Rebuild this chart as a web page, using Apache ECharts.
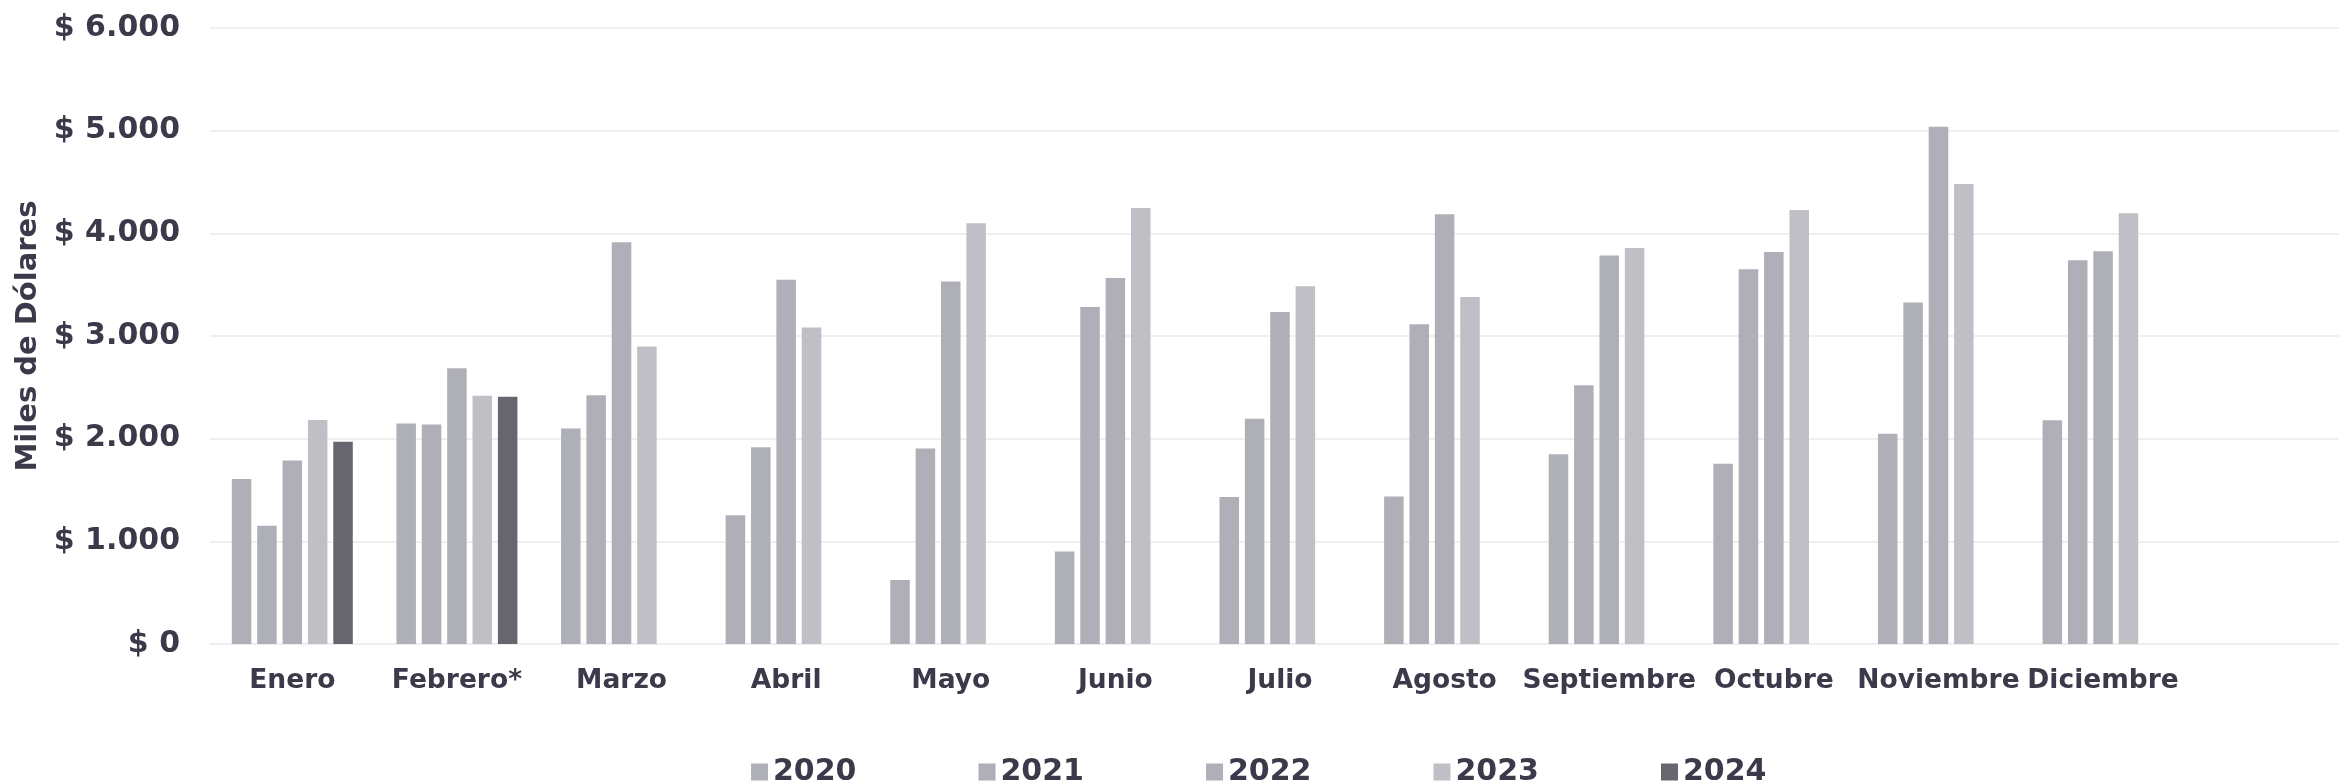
<!DOCTYPE html>
<html>
<head>
<meta charset="utf-8">
<title>Miles de Dólares por mes</title>
<script src="https://cdn.jsdelivr.net/npm/echarts@6/dist/echarts.min.js"></script>
<style>
  html, body { margin: 0; padding: 0; background: #fff; }
  #chart { width: 2339px; height: 782px; }
</style>
</head>
<body>
<div id="chart"></div>
<script>
// meses (la última categoría queda vacía, como en el original)
const meses = ['Enero', 'Febrero*', 'Marzo', 'Abril', 'Mayo', 'Junio', 'Julio',
  'Agosto', 'Septiembre', 'Octubre', 'Noviembre', 'Diciembre', '']
const anios = ['2020', '2021', '2022', '2023', '2024']

// valores en miles de dólares
const v2020 = [1607, 2148, 2099, 1255, 623, 902, 1431, 1437, 1849, 1755, 2048, 2179, null]
const v2021 = [1153, 2137, 2424, 1917, 1904, 3283, 2193, 3114, 2521, 3650, 3326, 3737, null]
const v2022 = [1787, 2685, 3914, 3549, 3530, 3565, 3234, 4185, 3783, 3818, 5038, 3826, null]
const v2023 = [2182, 2417, 2897, 3082, 4097, 4247, 3484, 3380, 3857, 4227, 4480, 4196, null]
const v2024 = [1969, 2409, null, null, null, null, null, null, null, null, null, null, null]

const colores = ['#afafb7', '#afafb7', '#afafb7', '#c0bfc5', '#67666f']
const textColor = '#3b3a4a'
const fuente = 'DejaVu Sans'

const chart = echarts.init(document.getElementById('chart'))

// formato $ 1.000
const formatoPesos = (v) => '$ ' + String(v).replace(/\B(?=(\d{3})+(?!\d))/g, '.')

const valores = [v2020, v2021, v2022, v2023, v2024]

const option = {
  animation: false,
  grid: { left: 210, right: -11, top: 28, bottom: 138, outerBoundsMode: 'none', containLabel: false },
  legend: {
    left: 746,
    top: 752,
    itemWidth: 17,
    itemHeight: 17,
    itemGap: 122,
    icon: 'rect',
    data: anios,
    textStyle: { color: textColor, fontSize: 30, fontWeight: 'bold', fontFamily: fuente }
  },
  xAxis: {
    type: 'category',
    data: meses,
    axisLine: { lineStyle: { color: '#eeeeee', width: 2 } },
    axisTick: { show: false },
    axisLabel: {
      interval: 0,
      margin: 24,
      color: textColor,
      fontSize: 26.5,
      fontWeight: 'bold',
      fontFamily: fuente
    }
  },
  yAxis: {
    type: 'value',
    min: 0,
    max: 6000,
    interval: 1000,
    name: 'Miles de Dólares',
    nameLocation: 'middle',
    nameGap: 150,
    nameTextStyle: { color: textColor, fontSize: 29, fontWeight: 'bold', fontFamily: fuente },
    axisLine: { show: false },
    axisTick: { show: false },
    splitLine: { lineStyle: { color: '#efefef', width: 2 } },
    axisLabel: {
      margin: 30,
      color: textColor,
      fontSize: 30,
      fontWeight: 'bold',
      fontFamily: fuente,
      formatter: formatoPesos
    }
  },
  series: anios.map((a, i) => ({
    name: a,
    type: 'bar',
    data: valores[i],
    barGap: '30%',
    barCategoryGap: '26.5%',
    itemStyle: { color: colores[i] }
  }))
}

chart.setOption(option)
</script>
</body>
</html>
